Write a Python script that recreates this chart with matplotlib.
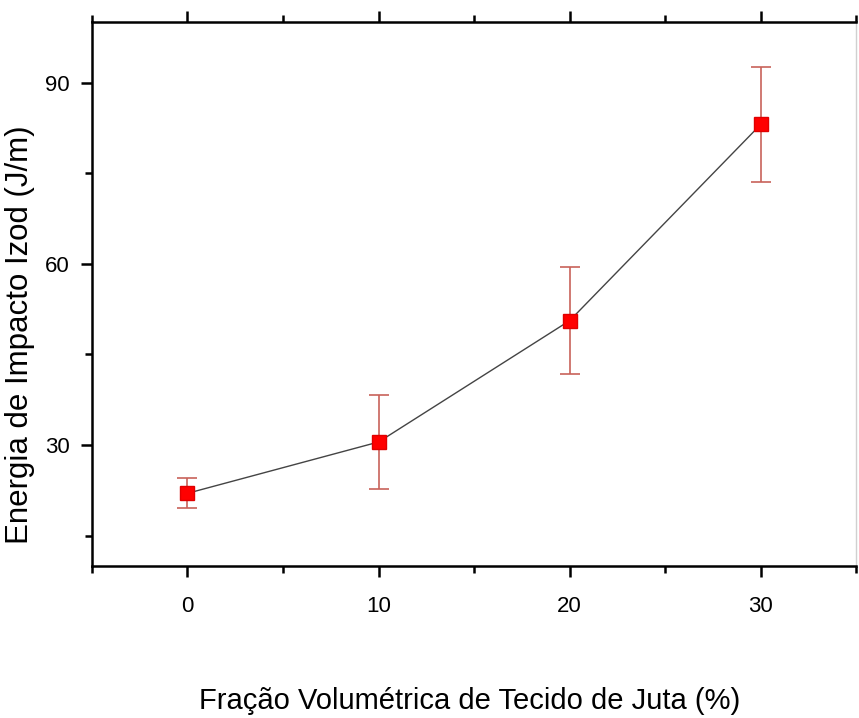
import matplotlib
matplotlib.use('agg')

import matplotlib.pyplot as plt
from matplotlib.ticker import MultipleLocator

plt.rcParams['font.family'] = ['Liberation Sans', 'DejaVu Sans']

fracao = [0, 10, 20, 30]
energia = [22.0, 30.5, 50.6, 83.1]
desvio = [2.5, 7.8, 8.8, 9.5]

fig = plt.figure(figsize=(8.59, 7.18), dpi=100)
ax = fig.add_axes([0.107, 0.212, 0.890, 0.757])

ax.plot(fracao, energia, color='#444444', lw=1.0, zorder=2)
ax.errorbar(fracao, energia, yerr=desvio, fmt='none', ecolor='#c8625a',
            elinewidth=1.2, capsize=7, capthick=1.2, zorder=3)
ax.plot(fracao, energia, ls='none', marker='s', ms=10.5, color='#ff0000',
        mec='#e00000', zorder=4)

ax.set_xlim(-5, 35)
ax.set_ylim(10, 100)
ax.xaxis.set_major_locator(MultipleLocator(10))
ax.xaxis.set_minor_locator(MultipleLocator(5))
ax.yaxis.set_major_locator(MultipleLocator(30))
ax.yaxis.set_minor_locator(MultipleLocator(15))

ax.tick_params(which='both', direction='out', width=1.8, top=True, right=False,
               labelsize=16, pad=8)
ax.tick_params(which='major', length=8)
ax.tick_params(which='minor', length=5)
ax.tick_params(axis='x', which='major', pad=14)

for side in ('left', 'bottom', 'top'):
    ax.spines[side].set_linewidth(1.8)
ax.spines['right'].set_color('#d0d0d0')
ax.spines['right'].set_linewidth(1.0)

# label positions in axes fractions
ax.set_xlabel('Fração Volumétrica de Tecido de Juta (%)', fontsize=21)
ax.xaxis.set_label_coords(0.4935, -0.2225)
ax.set_ylabel('Energia de Impacto Izod (J/m)', fontsize=22.5)
ax.yaxis.set_label_coords(-0.0746, 0.425)

fig.savefig('out.png', dpi=100)
